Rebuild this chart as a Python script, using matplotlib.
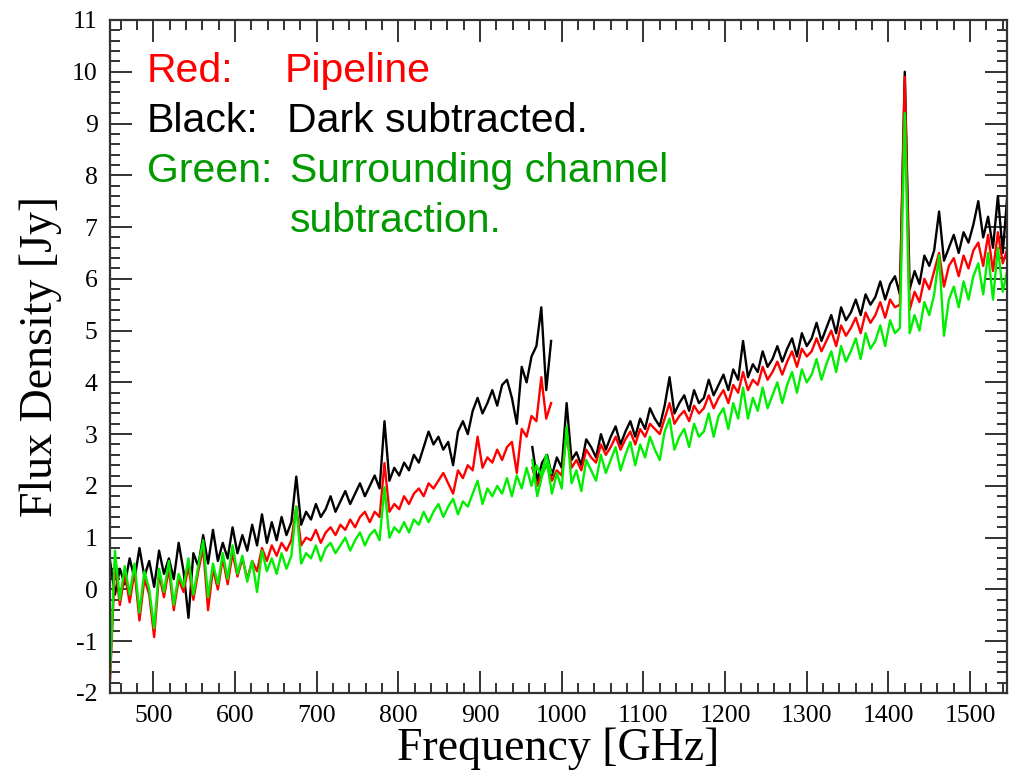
import numpy as np
import matplotlib
matplotlib.use("Agg")
import matplotlib.pyplot as plt
from matplotlib.ticker import MultipleLocator

# Two overlapping spectral bands, 6 GHz channels
freq_a = np.arange(447, 991, 6)    # low band, 447 .. 987 GHz
freq_b = np.arange(964, 1547, 6)   # high band, 964 .. 1546 GHz

# Dark subtracted (black)
black_a = [0.55, -0.1, 0.4, 0.1, 0.6, 0.2, 0.8, 0.25, 0.55, 0.05,
           0.75, 0.3, 0.6, 0.2, 0.9, 0.35, -0.55, 0.7, 0.45, 1.05,
           0.5, 1.15, 0.55, 0.9, 0.6, 1.2, 0.7, 1.05, 0.75, 1.25,
           0.85, 1.45, 0.9, 1.3, 0.95, 1.4, 1.05, 1.3, 2.18, 1.25,
           1.5, 1.35, 1.65, 1.4, 1.55, 1.8, 1.5, 1.7, 1.9, 1.65,
           1.85, 2.05, 1.8, 2.0, 2.2, 1.95, 3.25, 2.1, 2.35, 2.2,
           2.45, 2.3, 2.6, 2.45, 2.75, 3.05, 2.8, 2.95, 2.7, 2.85,
           2.4, 3.05, 3.25, 3.0, 3.45, 3.7, 3.4, 3.6, 3.85, 3.55,
           3.95, 4.05, 3.7, 3.2, 4.3, 4.0, 4.5, 4.7, 5.45, 3.85,
           4.8]
black_b = [2.75, 2.1, 2.45, 2.6, 2.2, 2.55, 2.35, 3.6, 2.5, 2.65,
           2.4, 2.9, 2.75, 2.55, 3.0, 2.7, 2.95, 3.15, 2.8, 3.05,
           3.25, 2.95, 3.3, 3.1, 3.5, 3.3, 3.15, 3.55, 4.1, 3.4,
           3.6, 3.75, 3.45, 3.85, 3.6, 3.7, 4.05, 3.75, 3.95, 4.15,
           3.85, 4.25, 4.05, 4.8, 4.1, 4.35, 4.2, 4.6, 4.3, 4.45,
           4.7, 4.4, 4.65, 4.85, 4.5, 4.95, 4.7, 4.85, 5.15, 4.8,
           5.05, 5.3, 4.95, 5.45, 5.2, 5.35, 5.6, 5.3, 5.7, 5.5,
           5.65, 5.95, 5.6, 5.9, 6.05, 5.7, 10.0, 5.8, 6.15, 5.9,
           6.45, 6.25, 6.55, 7.3, 6.35, 6.6, 6.85, 6.5, 6.9, 6.7,
           7.05, 7.5, 6.8, 7.2, 6.6, 7.6, 6.5, 7.7]

# Pipeline (red)
red_a = [-1.75, 0.5, -0.3, 0.3, -0.25, 0.35, -0.6, 0.2, -0.1, -0.92,
         0.3, -0.15, 0.4, -0.4, 0.2, -0.05, 0.45, -0.2, 0.35, 0.8,
         -0.4, 0.4, 0.0, 0.6, 0.1, 0.7, 0.25, 0.6, 0.2, 0.55,
         0.35, 0.8, 0.55, 0.85, 0.65, 0.9, 0.75, 0.95, 1.6, 0.85,
         1.0, 0.95, 1.15, 0.9, 1.1, 1.2, 1.05, 1.25, 1.15, 1.35,
         1.2, 1.4, 1.5, 1.3, 1.5, 1.4, 2.44, 1.5, 1.65, 1.55,
         1.8, 1.65, 1.85, 1.95, 1.8, 2.05, 1.95, 2.1, 2.25, 2.05,
         1.85, 2.3, 2.15, 2.4, 2.3, 2.95, 2.35, 2.55, 2.45, 2.7,
         2.5, 2.75, 2.85, 2.25, 3.1, 2.95, 3.35, 3.25, 4.1, 3.3,
         3.6]
red_b = [2.35, 2.0, 2.25, 2.4, 2.1, 2.3, 2.2, 3.0, 2.35, 2.5,
         2.3, 2.7, 2.55, 2.45, 2.8, 2.6, 2.75, 2.95, 2.7, 2.9,
         3.05, 2.8, 3.1, 2.95, 3.2, 3.1, 3.0, 3.3, 3.6, 3.2,
         3.35, 3.45, 3.25, 3.55, 3.4, 3.5, 3.75, 3.5, 3.7, 3.85,
         3.6, 3.95, 3.8, 4.2, 3.85, 4.05, 3.95, 4.3, 4.05, 4.2,
         4.4, 4.15, 4.4, 4.6, 4.3, 4.65, 4.5, 4.6, 4.85, 4.6,
         4.8, 5.0, 4.7, 5.1, 4.9, 5.05, 5.25, 4.95, 5.35, 5.15,
         5.3, 5.55, 5.25, 5.6, 5.45, 5.5, 9.9, 5.4, 5.75, 5.55,
         6.0, 5.8, 6.15, 6.5, 5.85, 6.25, 6.4, 6.05, 6.45, 6.2,
         6.55, 6.7, 6.25, 6.85, 6.15, 6.9, 6.3, 6.6]

# Surrounding channel subtraction (green)
green_a = [-1.65, 0.75, -0.2, 0.45, -0.1, 0.5, -0.45, 0.35, 0.0, -0.75,
           0.4, -0.05, 0.55, -0.3, 0.3, 0.05, 0.6, -0.1, 0.45, 0.95,
           -0.15, 0.5, 0.1, 0.7, 0.2, 0.85, 0.3, 0.65, 0.15, 0.55,
           -0.05, 0.75, 0.35, 0.6, 0.3, 0.7, 0.4, 0.65, 1.6, 0.5,
           0.7, 0.6, 0.85, 0.55, 0.8, 0.9, 0.7, 0.85, 1.0, 0.75,
           0.95, 1.1, 0.85, 1.05, 1.15, 0.95, 1.98, 1.0, 1.2, 1.1,
           1.3, 1.1, 1.35, 1.25, 1.5, 1.3, 1.5, 1.65, 1.4, 1.6,
           1.75, 1.45, 1.7, 1.6, 1.85, 2.1, 1.65, 1.95, 1.8, 2.0,
           1.85, 2.15, 1.8, 2.2, 1.95, 2.35, 2.0, 2.4, 2.2, 2.6,
           2.25]
green_b = [2.5, 1.8, 2.2, 2.45, 1.85, 2.25, 1.95, 3.15, 2.05, 2.3,
           1.9, 2.5, 2.3, 2.1, 2.6, 2.25, 2.5, 2.75, 2.3, 2.6,
           2.85, 2.4, 2.8, 2.55, 2.95, 2.7, 2.5, 3.05, 3.3, 2.7,
           2.95, 3.1, 2.75, 3.2, 2.95, 3.05, 3.4, 2.95, 3.35, 3.5,
           3.1, 3.6, 3.3, 3.9, 3.3, 3.7, 3.45, 3.9, 3.5, 3.75,
           4.0, 3.6, 3.95, 4.2, 3.8, 4.25, 4.0, 4.15, 4.45, 4.05,
           4.35, 4.6, 4.2, 4.7, 4.4, 4.6, 4.85, 4.45, 4.95, 4.65,
           4.8, 5.1, 4.7, 5.2, 4.95, 5.05, 9.2, 4.95, 5.3, 5.0,
           5.55, 5.3, 5.7, 6.45, 4.9, 5.6, 5.85, 5.45, 5.95, 5.6,
           6.05, 6.3, 5.7, 6.5, 5.6, 6.6, 5.75, 6.2]

plt.rcParams['font.family'] = ['Liberation Serif', 'DejaVu Serif']
plt.rcParams['axes.unicode_minus'] = False
sans = ['Liberation Sans', 'DejaVu Sans']

fig = plt.figure(figsize=(10.19, 7.78), dpi=100)
ax = fig.add_axes([0.108, 0.1093, 0.8801, 0.865])

# black first, green drawn on top
for ya, yb, col in [(black_a, black_b, '#000000'),
                    (red_a, red_b, '#ff0000'),
                    (green_a, green_b, '#00ee00')]:
    ax.plot(freq_a, ya, color=col, linewidth=1.7)
    ax.plot(freq_b, yb, color=col, linewidth=1.7)

ax.set_xlim(447, 1545)
ax.set_ylim(-2, 11)
ax.xaxis.set_major_locator(MultipleLocator(100))
ax.xaxis.set_minor_locator(MultipleLocator(20))
ax.yaxis.set_major_locator(MultipleLocator(1))
ax.yaxis.set_minor_locator(MultipleLocator(0.2))
ax.tick_params(which='both', direction='in', top=True, right=True,
               width=1.4, color='#333333', labelsize=18.5)
ax.tick_params(which='major', length=16, pad=9)
ax.tick_params(which='minor', length=7.5)
for s in ax.spines.values():
    s.set_linewidth(1.6)
    s.set_color('#333333')

ax.set_xlabel("Frequency [GHz]", fontsize=33, labelpad=0)
ax.set_ylabel("Flux Density [Jy]", fontsize=33, labelpad=7)

# legend-style annotation
txt = dict(fontsize=29.5, family=sans, ha='left', va='baseline')
ax.text(492, 9.8, "Red:", color='#ff0000', **txt)
ax.text(661, 9.8, "Pipeline", color='#ff0000', **txt)
ax.text(492, 8.84, "Black:", color='#000000', **txt)
ax.text(664, 8.84, "Dark subtracted.", color='#000000', **txt)
ax.text(492, 7.87, "Green:", color='#009a00', **txt)
ax.text(667, 7.87, "Surrounding channel", color='#009a00', **txt)
ax.text(667, 6.9, "subtraction.", color='#009a00', **txt)

fig.savefig("out.png", dpi=100)
